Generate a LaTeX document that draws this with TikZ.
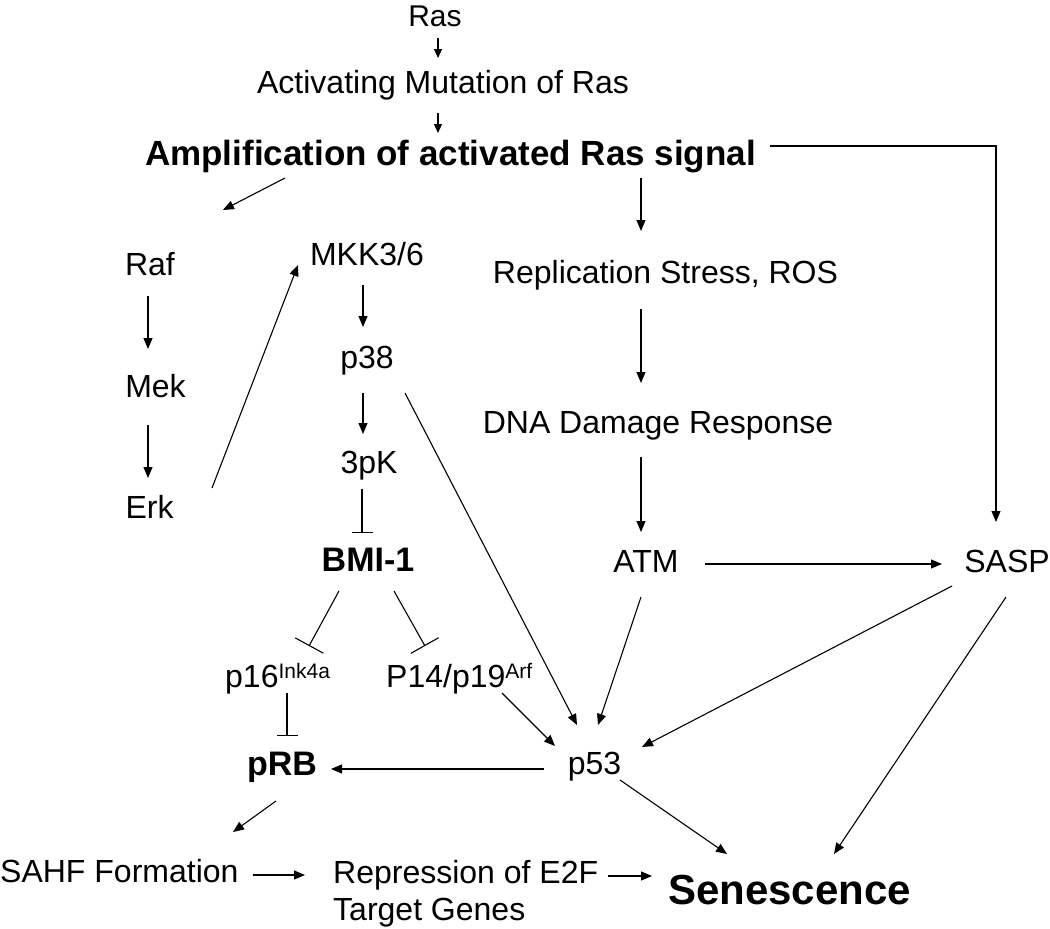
\documentclass[tikz,border=0pt]{standalone}
\usepackage{fontspec}
\setmainfont{Liberation Sans}
\usetikzlibrary{arrows.meta,calc}
\newcommand\supx[1]{\raisebox{9pt}{\fontsize{21}{21}\selectfont #1}}
\begin{document}
\begin{tikzpicture}[x=1pt,y=-1pt,
  lbl/.style={inner sep=0pt, font=\fontsize{32}{37}\selectfont},
  blbl/.style={inner sep=0pt, font=\fontsize{34}{40}\selectfont\bfseries},
  conn/.style={line width=1.1pt, draw=black},
  arr/.style={conn, -{Triangle[length=11pt,width=9pt]}},
  sarr/.style={conn, -{Triangle[length=9pt,width=8pt]}},
  inh/.style={conn, -{Bar[width=21pt,line width=1.1pt]}},
  inhw/.style={conn, -{Bar[width=32pt,line width=1.1pt]}}]
\useasboundingbox (0,0) rectangle (1050,929);
% nodes
\node[lbl, anchor=base, font=\fontsize{30}{36}\selectfont] (ras) at (435,26) {Ras};
\node[lbl, anchor=base] (act) at (443,93) {Activating Mutation of Ras};
\node[blbl, anchor=base, font=\fontsize{35}{40}\selectfont\bfseries] (amp) at (450.5,165) {Amplification of activated Ras signal};
\node[lbl, anchor=base] (raf) at (150,275) {Raf};
\node[lbl, anchor=base] (mek) at (155.5,397) {Mek};
\node[lbl, anchor=base] (erk) at (149.5,518) {Erk};
\node[lbl, anchor=base] (mkk) at (367,265) {MKK3/6};
\node[lbl, anchor=base] (p38) at (367,368) {p38};
\node[lbl, anchor=base] (tpk) at (369,473) {3pK};
\node[blbl, anchor=base] (bmi) at (368,571) {BMI-1};
\node[lbl, anchor=base] (rep) at (665.5,283) {Replication Stress, ROS};
\node[lbl, anchor=base] (dna) at (658,433) {DNA Damage Response};
\node[lbl, anchor=base] (atm) at (646,572) {ATM};
\node[lbl, anchor=base] (sasp) at (1007,572) {SASP};
\node[lbl, anchor=base west] (p16) at (225,687) {p16\supx{Ink4a}};
\node[lbl, anchor=base west] (p14) at (386,687) {P14/p19\supx{Arf}};
\node[blbl, anchor=base] (prb) at (282,775) {pRB};
\node[lbl, anchor=base] (p53) at (594.5,774) {p53};
\node[lbl, anchor=base west] (sahf) at (0,882) {SAHF Formation};
\node[lbl, anchor=base west, align=left] (repr) at (333,920) {Repression of E2F\\Target Genes};
\node[blbl, anchor=base, font=\fontsize{42}{48}\selectfont\bfseries] (sen) at (789.5,904) {Senescence};
% connectors
\draw[sarr] ($(ras.base)+(3,12)$) -- ($(act.base)+(-5,-35)$);
\draw[sarr] ($(act.base)+(-5,20)$) -- ($(amp.base)+(-12.5,-32)$);
\draw[arr] ($(amp.base)+(-165.5,13)$) -- ($(raf.base)+(73,-65)$);
\draw[arr] ($(amp.base)+(190.5,13)$) -- ($(rep.base)+(-24.5,-52)$);
\draw[arr] ($(amp.base)+(319.5,-19)$) -| ($(sasp.base)+(-11,-50)$);
\draw[arr] ($(raf.base)+(-2,21)$) -- ($(mek.base)+(-7.5,-48)$);
\draw[arr] ($(mek.base)+(-7.5,28)$) -- ($(erk.base)+(-1.5,-40)$);
\draw[arr] ($(erk.base)+(62.5,-30)$) -- ($(mkk.base)+(-69,0)$);
\draw[arr] ($(mkk.base)+(-4,20)$) -- ($(p38.base)+(-4,-41)$);
\draw[arr] ($(p38.base)+(-4,25)$) -- ($(tpk.base)+(-6,-39)$);
\draw[inh] ($(tpk.base)+(-7,16)$) -- ($(bmi.base)+(-6,-38)$);
\draw[arr] ($(p38.base)+(38,25)$) -- ($(p53.base)+(-17.5,-49)$);
\draw[arr] ($(rep.base)+(-24.5,26)$) -- ($(dna.base)+(-17,-50)$);
\draw[arr] ($(dna.base)+(-17,24)$) -- ($(atm.base)+(-5,-40)$);
\draw[arr] ($(atm.base)+(59,-8)$) -- ($(sasp.base)+(-65,-8)$);
\draw[arr] ($(atm.base)+(-5,25)$) -- ($(p53.base)+(3.5,-49)$);
\draw[arr] ($(sasp.base)+(-55,14)$) -- ($(p53.base)+(47.5,-27)$);
\draw[arr] ($(sasp.base)+(-1,25)$) -- ($(sen.base)+(44.5,-50)$);
\draw[inhw] ($(bmi.base)+(-29,20)$) -- ($(p16.base west)+(84,-41)$);
\draw[inhw] ($(bmi.base)+(26,20)$) -- ($(p14.base west)+(39,-41)$);
\draw[inh] ($(p16.base west)+(62,6)$) -- ($(prb.base)+(5,-39)$);
\draw[arr] ($(p14.base west)+(116,6)$) -- ($(p53.base)+(-39.5,-28)$);
\draw[arr] ($(p53.base)+(-50.5,-5)$) -- ($(prb.base)+(49,-6)$);
\draw[arr] ($(prb.base)+(-6,26)$) -- ($(sahf.base west)+(233,-50)$);
\draw[arr] ($(p53.base)+(25.5,6)$) -- ($(sen.base)+(-62.5,-50)$);
\draw[arr] ($(sahf.base west)+(253,-7)$) -- ($(repr.base west)+(-28,-45)$);
\draw[arr] ($(repr.base west)+(275,-44)$) -- ($(sen.base)+(-137.5,-28)$);
\end{tikzpicture}
\end{document}
